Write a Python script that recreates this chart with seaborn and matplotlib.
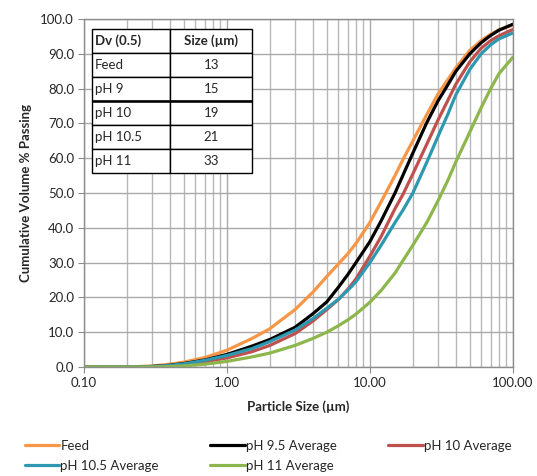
import seaborn as sns
import matplotlib.pyplot as plt
import matplotlib.ticker as mticker
import pandas as pd

# Particle size grid (µm) and cumulative volume % passing for each sample
sizes = [0.1, 0.2, 0.25, 0.3, 0.4, 0.5, 0.7, 1, 1.5, 2, 3, 4, 5, 6, 7, 8, 10, 12,
         15, 17, 20, 25, 30, 35, 40, 50, 60, 70, 80, 100]

feed = [0, 0.05, 0.15, 0.3, 0.8, 1.4, 2.7, 4.8, 8.2, 11, 16.5, 21.5, 26, 29.5, 32.5, 35.5,
        41.5, 47.5, 55, 59.5, 65, 72.5, 78.5, 82.5, 86, 91, 93.8, 95.6, 96.9, 98.3]
ph95 = [0, 0, 0.05, 0.15, 0.5, 1.0, 2.0, 3.6, 6.0, 7.9, 11.4, 15.3, 18.7, 22.8, 26.5, 30,
        36, 42, 50, 55, 61.5, 70.2, 76.5, 81, 85, 90, 93.2, 95.3, 96.8, 98.5]
ph10 = [0, 0, 0, 0.1, 0.35, 0.7, 1.5, 2.6, 4.4, 6.2, 9.6, 13.2, 16.5, 19.3, 22.3, 25.3,
        31.8, 37.5, 45.5, 49.5, 55.5, 64, 71, 76.5, 81.3, 87.7, 91.6, 93.8, 95.2, 97]
ph105 = [0, 0, 0, 0.12, 0.45, 0.9, 1.9, 3.3, 5.3, 7.3, 10.6, 13.9, 16.9, 19.4, 22, 24.5,
         30, 35, 41.5, 45, 50, 58.8, 66.3, 72.5, 78.3, 85.5, 90, 92.6, 94.3, 96]
ph11 = [0, 0, 0, 0, 0.1, 0.3, 0.8, 1.6, 2.9, 4.0, 6.2, 8.2, 10, 11.8, 13.5, 15.2,
        18.6, 22, 27, 30.5, 35, 41.5, 47.8, 53.5, 59, 67.5, 74.5, 80, 84.3, 89]

series_names = ["Feed", "pH 9.5 Average", "pH 10 Average", "pH 10.5 Average", "pH 11 Average"]
series_colors = ["#F79646", "#000000", "#C0504D", "#2E98B0", "#8DB64C"]

# Dv(0.5) summary table
table_samples = ["Feed", "pH 9", "pH 10", "pH 10.5", "pH 11"]
table_sizes = ["13", "15", "19", "21", "33"]

frames = []
for name, vals in zip(series_names, [feed, ph95, ph10, ph105, ph11]):
    frames.append(pd.DataFrame({"size": sizes, "passing": vals, "series": name}))
df = pd.concat(frames, ignore_index=True)

sns.set_style("white")
plt.rcParams["font.family"] = ["Lato", "DejaVu Sans"]

fig = plt.figure(figsize=(5.37, 4.76), dpi=100)
ax = fig.add_axes([0.156, 0.229, 0.799, 0.731])

sns.lineplot(data=df, x="size", y="passing", hue="series", hue_order=series_names,
             palette=series_colors, linewidth=2.3, ax=ax, legend=True)

ax.set_xscale("log")
ax.set_xlim(0.1, 100)
ax.set_ylim(0, 100)
ax.set_xticks([0.1, 1, 10, 100])
ax.xaxis.set_major_formatter(mticker.FixedFormatter(["0.10", "1.00", "10.00", "100.00"]))
ax.xaxis.set_minor_locator(mticker.LogLocator(base=10, subs=range(2, 10), numticks=20))
ax.xaxis.set_minor_formatter(mticker.NullFormatter())
ax.set_yticks(range(0, 101, 10))
ax.yaxis.set_major_formatter(mticker.FormatStrFormatter("%.1f"))

ax.grid(which="major", axis="both", color="#a9a9a9", linewidth=1.0)
ax.grid(which="minor", axis="x", color="#b8b8b8", linewidth=1.0)
ax.set_axisbelow(True)
for sp in ax.spines.values():
    sp.set_color("#8c8c8c")
    sp.set_linewidth(1.0)
ax.tick_params(axis="both", which="major", labelsize=9.5, length=4, color="#8c8c8c",
               direction="out", left=True, bottom=True, pad=3)
ax.tick_params(axis="x", which="minor", length=0)

ax.set_xlabel("Particle Size (µm)", fontsize=9.5, fontweight="bold", labelpad=8)
ax.set_ylabel("Cumulative Volume % Passing", fontsize=9.5, fontweight="bold", labelpad=6)

# legend below the plot, row-wise order
handles, labels = ax.get_legend_handles_labels()
order = [0, 3, 1, 4, 2]
ax.legend([handles[i] for i in order], [labels[i] for i in order], ncol=3,
          loc="upper center", bbox_to_anchor=(0.43, -0.175), frameon=False, fontsize=9.5,
          handlelength=2.6, handletextpad=0.1, columnspacing=3.9, labelspacing=0.6)

# summary table
tb_x, tb_y, tb_w, tb_h = 0.019, 0.557, 0.373, 0.414
tbl = ax.table(cellText=[[s, v] for s, v in zip(table_samples, table_sizes)],
               colLabels=["Dv (0.5)", "Size (µm)"],
               colWidths=[0.49, 0.51],
               bbox=[tb_x, tb_y, tb_w, tb_h])
tbl.set_zorder(5)
tbl.auto_set_font_size(False)
for (r, c), cell in tbl.get_celld().items():
    cell.set_edgecolor("black")
    cell.set_linewidth(1.0)
    cell.set_facecolor("white")
    cell.get_text().set_fontsize(9.5)
    if r == 0:
        cell.get_text().set_fontweight("bold")
    if c == 0:
        cell.get_text().set_horizontalalignment("left")
        cell.PAD = 0.04
    else:
        cell.get_text().set_horizontalalignment("center")

# slightly heavier rule under the "pH 9" row, as in the original
rule_y = tb_y + tb_h * 3 / 6
ax.plot([tb_x, tb_x + tb_w], [rule_y, rule_y], color="black", lw=1.8,
        transform=ax.transAxes, zorder=6, solid_capstyle="butt")

fig.savefig("out.png", dpi=100)
